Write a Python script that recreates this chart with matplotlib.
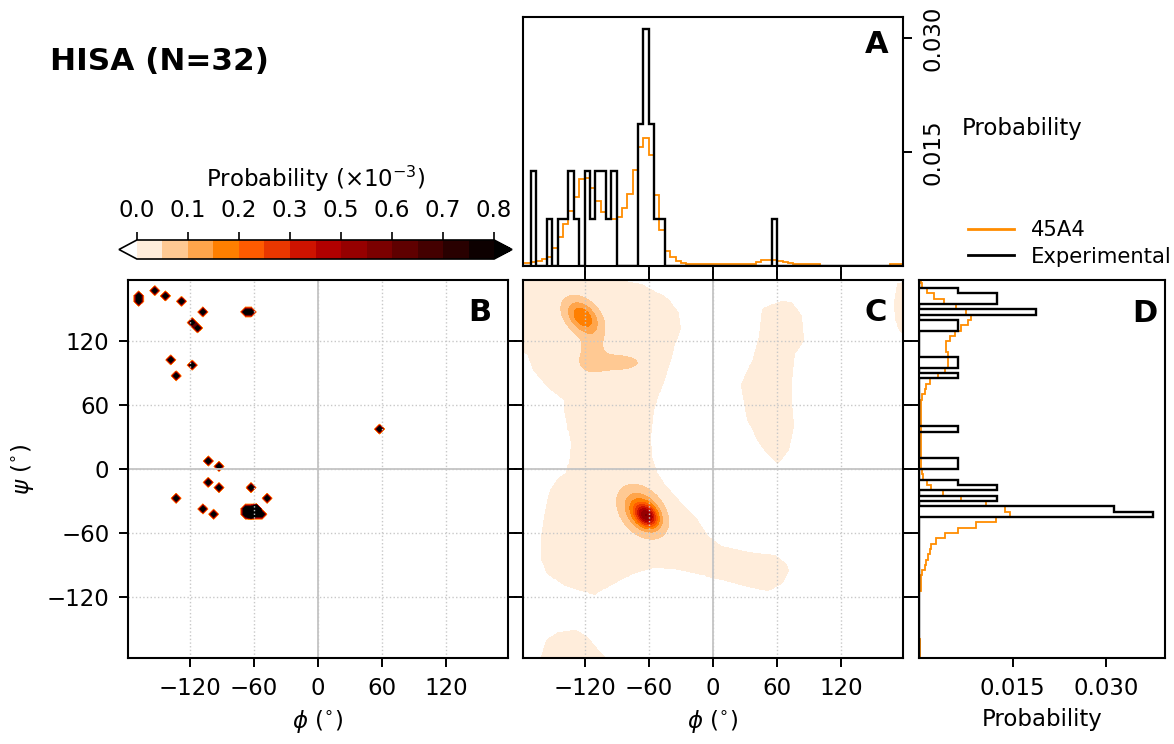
import numpy as np
import matplotlib
matplotlib.use("Agg")
import matplotlib.pyplot as plt
from matplotlib.path import Path
from matplotlib.lines import Line2D

# Experimental backbone dihedrals (degrees), one entry per residue
exp_phi = [-168, -168, -153, -142, -128, -108, -117, -113, -67, -62,
           -138, -118, -133, 57, -103, -93, -103, -93, -63, -133,
           -48, -108, -97,
           -68, -67, -63, -62, -61, -58, -57, -56, -52]
exp_psi = [162, 157, 167, 162, 157, 147, 137, 132, 147, 147,
           103, 97, 88, 37, 8, 3, -12, -17, -17, -27,
           -27, -37, -42,
           -38, -43, -37, -42, -44, -38, -43, -36, -42]

# 45A4 marginals: probability per degree, 5-degree bins from -180 to 180
sim_phi_prob = [0.0004, 0.0004, 0.0005, 0.0006, 0.0009, 0.0012, 0.0024, 0.0038,
                0.0055, 0.0073, 0.0091, 0.0114, 0.0116, 0.0103, 0.0086, 0.0071,
                0.0062, 0.0062, 0.0064, 0.0077, 0.0095, 0.0126, 0.0157, 0.0169,
                0.0146, 0.0093, 0.0048, 0.0020, 0.0012, 0.0007, 0.0004,
                0.0002, 0.0002, 0.0002, 0.0002, 0.0002, 0.0002, 0.0002, 0.0002,
                0.0002, 0.0002, 0.0002, 0.0002,
                0.0003, 0.0005, 0.0008, 0.0008, 0.0008, 0.0007, 0.0005, 0.0004, 0.0003,
                0.0002, 0.0002, 0.0002, 0.0002,
                0, 0, 0, 0, 0, 0, 0, 0, 0, 0, 0, 0, 0,
                0.0002, 0.0002, 0.0002]
sim_psi_prob = [0.0002, 0.0002, 0.0002, 0.0002,
                0, 0, 0, 0, 0, 0, 0, 0, 0,
                0.0003, 0.0003, 0.0003,
                0.0005, 0.0009, 0.0012, 0.0015, 0.0018, 0.0020, 0.0027, 0.0041,
                0.0063, 0.0092, 0.0124, 0.0145, 0.0137, 0.0108, 0.0068, 0.0039,
                0.0020, 0.0013, 0.0007, 0.0005,
                0.0004, 0.0004, 0.0004, 0.0004, 0.0004, 0.0004, 0.0004, 0.0004,
                0.0004, 0.0004, 0.0004, 0.0004, 0.0004,
                0.0005, 0.0009, 0.0012, 0.0017, 0.0031, 0.0042, 0.0046, 0.0047,
                0.0047, 0.0044, 0.0044, 0.0049, 0.0057, 0.0068, 0.0079, 0.0084,
                0.0076, 0.0060, 0.0040, 0.0024, 0.0013, 0.0005, 0.0004]

# 45A4 two-dimensional map (x1e-3 per deg^2): outlines of the sampled region
main_phi = [-185, -92, -92, -67, -42, -33, -31, -36, -39, -45, -51, -56, -59, -58,
            -54, -47, -33, -17, -5, 8, 33, 58, 68, 70, 64, 51, 33, 8, -14, -36,
            -55, -70, -82, -95, -110, -123, -138, -154, -160, -160, -157, -154,
            -151, -145, -136, -133, -132, -135, -138, -138, -154, -167, -173, -185]
main_psi = [185, 185, 178, 173, 159, 146, 132, 118, 106, 87, 71, 55, 30, 12,
            -1, -13, -29, -45, -64, -73, -79, -82, -89, -95, -107, -114, -110, -103,
            -98, -93, -92, -96, -101, -108, -117, -114, -109, -98, -85, -64, -45,
            -30, -20, -10, -4, 12, 24, 40, 55, 65, 77, 93, 109, 112]
lh_phi = [64, 47, 44, 38, 27, 30, 33, 42, 51, 61, 70, 75, 73, 73, 76, 84, 82, 73]
lh_psi = [157, 150, 125, 103, 79, 62, 46, 28, 15, 6, 18, 40, 62, 83, 109, 121, 143, 156]
edge_r_phi = [185, 173, 170, 171, 176, 185]
edge_r_psi = [176, 174, 156, 140, 129, 126]
edge_b_phi = [-162, -160, -155, -144, -129, -118, -109, -101, -99]
edge_b_psi = [-185, -177, -161, -154, -152, -158, -169, -177, -185]

# populated basins: centre, height, widths (deg) and tilt of the long axis (deg)
base_level = 0.03
peak_phi = [-122, -113, -93, -66, -62]
peak_psi = [143, 112, 100, -40, -44]
peak_amp = [0.19, 0.05, 0.05, 0.20, 0.30]
peak_sig_major = [12, 8, 20, 14.5, 7.5]
peak_sig_minor = [8, 14, 6, 10, 5.5]
peak_tilt = [-45, 0, 0, -50, -45]

bin_edges = np.arange(-180, 181, 5)
bin_centers = 0.5 * (bin_edges[:-1] + bin_edges[1:])
prob_levels = np.linspace(0.0, 0.8, 15)
angle_ticks = [-120, -60, 0, 60, 120]
LIM = 177.5
FS = 16.5
cmap = plt.get_cmap("gist_heat_r")
ORANGE = "#ff8c00"

# experimental 2D probability density, x1e-3 per deg^2
exp_map, _, _ = np.histogram2d(exp_phi, exp_psi, bins=[bin_edges, bin_edges], density=True)
exp_map = exp_map.T * 1e3
exp_phi_hist, _ = np.histogram(exp_phi, bins=bin_edges, density=True)
exp_psi_hist, _ = np.histogram(exp_psi, bins=bin_edges, density=True)


def wrap(d):
    return (d + 180.0) % 360.0 - 180.0


grid = np.arange(-179.5, 180.0, 1.0)
PHI, PSI = np.meshgrid(grid, grid)
sim_map = np.full(PHI.shape, base_level)
for p, q, a, s1, s2, tilt in zip(peak_phi, peak_psi, peak_amp,
                                 peak_sig_major, peak_sig_minor, peak_tilt):
    dx = wrap(PHI - p)
    dy = wrap(PSI - q)
    t = np.deg2rad(tilt)
    u = dx * np.cos(t) + dy * np.sin(t)
    v = -dx * np.sin(t) + dy * np.cos(t)
    sim_map += a * np.exp(-0.5 * ((u / s1) ** 2 + (v / s2) ** 2))
pts = np.column_stack([PHI.ravel(), PSI.ravel()])
inside = np.zeros(len(pts), dtype=bool)
for xs, ys in [(main_phi, main_psi), (lh_phi, lh_psi),
               (edge_r_phi, edge_r_psi), (edge_b_phi, edge_b_psi)]:
    inside |= Path(np.column_stack([xs, ys])).contains_points(pts)
sim_map = np.where(inside.reshape(PHI.shape), sim_map, 0.0)

# ---------------------------------------------------------------- layout
W, H = 1174, 744
fig = plt.figure(figsize=(W / 100, H / 100), dpi=100)


def box(x0, y0, x1, y1):
    return [x0 / W, 1 - y1 / H, (x1 - x0) / W, (y1 - y0) / H]


axB = fig.add_axes(box(128, 280, 508, 658))
axC = fig.add_axes(box(523, 280, 903, 658))
axA = fig.add_axes(box(523, 17, 903, 266), sharex=axC)
axD = fig.add_axes(box(919, 280, 1165, 658), sharey=axC)
cax = fig.add_axes(box(119, 240, 512, 259))

for ax in (axA, axB, axC, axD):
    ax.tick_params(direction="out", length=6.7, width=1.4, pad=6.7,
                   labelsize=FS, colors="black")
    for s in ax.spines.values():
        s.set_linewidth(1.5)

# B: experimental map, C: 45A4 map
csB = axB.contourf(bin_centers, bin_centers, exp_map, levels=prob_levels,
                   cmap=cmap, extend="both")
axC.contourf(grid, grid, sim_map, levels=prob_levels, cmap=cmap, extend="both")

for ax in (axB, axC):
    ax.set_xlim(-LIM, LIM)
    ax.set_ylim(-LIM, LIM)
    ax.set_xticks(angle_ticks)
    ax.set_yticks(angle_ticks)
    ax.grid(True, linestyle=":", color="#c8c8c8", linewidth=1.0)
    ax.axhline(0, color="#c4c4c4", linewidth=1.3, zorder=1.6)
    ax.axvline(0, color="#c4c4c4", linewidth=1.3, zorder=1.6)
    ax.set_xlabel(r"$\phi$ ($^{\circ}$)", fontsize=FS, labelpad=6)

axB.set_ylabel(r"$\psi$ ($^{\circ}$)", fontsize=FS, labelpad=8)
axB.tick_params(left=True, right=True, top=False, labelleft=True, labelright=False)
axC.tick_params(left=True, right=True, top=True, labelleft=False, labelbottom=True)

# A: phi marginals
axA.stairs(sim_phi_prob, bin_edges, color=ORANGE, linewidth=1.3, baseline=0)
axA.stairs(exp_phi_hist, bin_edges, color="black", linewidth=1.7, baseline=0)
axA.yaxis.tick_right()
axA.set_yticks([0.015, 0.030], labels=["0.015", "0.030"])
for lab in axA.get_yticklabels():
    lab.set_rotation(90)
    lab.set_va("center")
axA.tick_params(axis="x", bottom=True, labelbottom=False)
axA.tick_params(axis="y", left=False, right=True)
axA.yaxis.set_label_position("right")
axA.set_ylabel("Probability", rotation=0, fontsize=FS)
axA.yaxis.label.set_ha("center")
axA.yaxis.label.set_va("center")
axA.yaxis.set_label_coords(1.313, 0.554)

# D: psi marginals
axD.stairs(sim_psi_prob, bin_edges, color=ORANGE, linewidth=1.3, baseline=0,
           orientation="horizontal")
axD.stairs(exp_psi_hist, bin_edges, color="black", linewidth=1.7, baseline=0,
           orientation="horizontal")
axD.set_xticks([0.015, 0.030], labels=["0.015", "0.030"])
axD.tick_params(axis="y", left=True, labelleft=False)
axD.set_xlabel("Probability", fontsize=FS, labelpad=6)

axC.set_xlim(-LIM, LIM)
axC.set_ylim(-LIM, LIM)

# panel letters
for ax, letter, xr, yt in [(axA, "A", 0.9605, 0.948), (axB, "B", 0.955, 0.952),
                           (axC, "C", 0.958, 0.952), (axD, "D", 0.9715, 0.951)]:
    ax.text(xr, yt, letter, transform=ax.transAxes, ha="right", va="top",
            fontsize=22, fontweight="bold", zorder=5)

# colour bar
cb = fig.colorbar(csB, cax=cax, orientation="horizontal", ticklocation="top",
                  ticks=prob_levels[::2], format="%.1f")
cb.ax.tick_params(length=6, width=1.2, labelsize=FS, pad=6.7)
cb.outline.set_linewidth(1.2)
cb.set_label(r"Probability ($\times 10^{-3}$)", fontsize=FS, labelpad=9)

# title and legend
fig.text(50 / W, 1 - 62 / H, "HISA (N=32)", fontsize=22.4, fontweight="bold",
         ha="left", va="center")
handles = [Line2D([], [], color=ORANGE, linewidth=2),
           Line2D([], [], color="black", linewidth=2)]
fig.legend(handles, ["45A4", "Experimental"], loc="upper left",
           bbox_to_anchor=(960 / W, 1 - 212 / H), frameon=False, fontsize=15.2,
           handlelength=2.18, handletextpad=0.8, labelspacing=0.3,
           borderaxespad=0)

fig.savefig("out.png", dpi=100)
